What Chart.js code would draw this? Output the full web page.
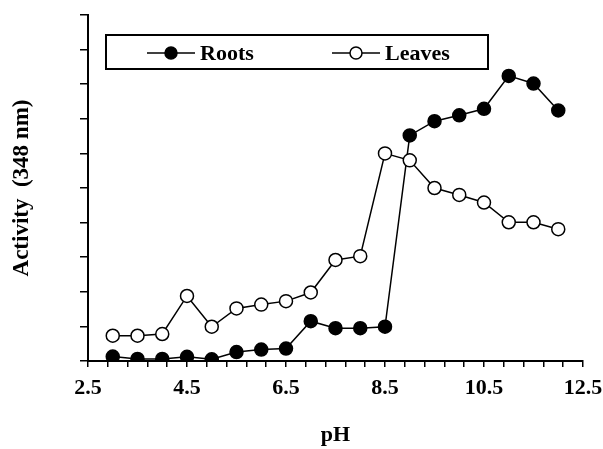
<!DOCTYPE html>
<html>
<head>
<meta charset="utf-8">
<script src="https://cdn.jsdelivr.net/npm/chart.js@4.4.1/dist/chart.umd.min.js"></script>
<style>
  html, body { margin: 0; padding: 0; background: #fff; }
  #wrap { width: 603px; height: 449px; }
</style>
</head>
<body>
<div id="wrap"><canvas id="chart-area-1" width="603" height="449"></canvas></div>
<script>

// pH of each sample
var phValues = [3, 3.5, 4, 4.5, 5, 5.5, 6, 6.5, 7, 7.5, 8, 8.5, 9, 9.5, 10, 10.5, 11, 11.5, 12];

// activity readings at 348 nm
var rootsActivity  = [0.13, 0.06, 0.06, 0.12, 0.05, 0.26, 0.33, 0.36, 1.15, 0.95, 0.95, 0.99,
                      6.52, 6.93, 7.10, 7.29, 8.24, 8.02, 7.24];
var leavesActivity = [0.73, 0.73, 0.78, 1.88, 0.99, 1.52, 1.63, 1.73, 1.98, 2.92, 3.03, 6.00,
                      5.80, 5.00, 4.80, 4.58, 4.01, 4.01, 3.81];

// labelled ticks on the pH axis (minor marks every 0.4 in between)
var xTickLabels = [2.5, 4.5, 6.5, 8.5, 10.5, 12.5];
var xMinorStep  = 0.4;

var FONT = 'Liberation Serif, Times New Roman, serif';

function toPoints(values) {
    return phValues.map(function(ph, i) {
        return { x: ph, y: values[i] };
    });
}

// boxed legend with the line+marker sample, like the old spreadsheet charts
var boxLegend = {
    id: 'boxLegend',
    afterDraw: function(chart) {
        var ctx = chart.ctx;
        ctx.save();
        ctx.strokeStyle = '#000';
        ctx.lineWidth = 2;
        ctx.strokeRect(106, 35, 382, 34);

        chart.data.datasets.forEach(function(ds, i) {
            var x0 = 147 + i * 185;
            var y0 = 53;
            ctx.beginPath();
            ctx.moveTo(x0, y0);
            ctx.lineTo(x0 + 48, y0);
            ctx.lineWidth = 1.5;
            ctx.strokeStyle = ds.borderColor;
            ctx.stroke();

            ctx.beginPath();
            ctx.arc(x0 + 24, y0, 6, 0, Math.PI * 2);
            ctx.fillStyle = ds.pointBackgroundColor;
            ctx.fill();
            ctx.lineWidth = 1.5;
            ctx.stroke();

            ctx.fillStyle = '#000';
            ctx.font = 'bold 22px ' + FONT;
            ctx.textBaseline = 'middle';
            ctx.textAlign = 'left';
            ctx.fillText(ds.label, x0 + 53, y0 + 1);
        });
        ctx.restore();
    }
};

var configOne = {
    type: 'line',
    data: {
        datasets: [{
            label: 'Roots',
            data: toPoints(rootsActivity),
            borderColor: '#000',
            borderWidth: 1.5,
            pointRadius: 6.5,
            pointBorderWidth: 1.5,
            pointBackgroundColor: '#000',
            pointBorderColor: '#000',
            tension: 0,
            order: 1
        }, {
            label: 'Leaves',
            data: toPoints(leavesActivity),
            borderColor: '#000',
            borderWidth: 1.5,
            pointRadius: 6.5,
            pointBorderWidth: 1.5,
            pointBackgroundColor: '#fff',
            pointBorderColor: '#000',
            tension: 0,
            order: 0
        }]
    },
    options: {
        responsive: false,
        animation: false,
        layout: { padding: { top: 15, right: 20, bottom: 0, left: 0 } },
        plugins: {
            legend: { display: false },
            tooltip: { enabled: false }
        },
        scales: {
            x: {
                type: 'linear',
                min: 2.5,
                max: 12.5,
                afterBuildTicks: function(scale) {
                    var ticks = [];
                    var n = Math.round((12.5 - 2.5) / xMinorStep);
                    for (var i = 0; i <= n; i++) {
                        ticks.push({ value: +(2.5 + i * xMinorStep).toFixed(2) });
                    }
                    scale.ticks = ticks;
                },
                afterFit: function(scale) {
                    scale.height = 88;
                    scale.paddingRight = 0;
                },
                ticks: {
                    autoSkip: false,
                    maxRotation: 0,
                    padding: 8,
                    color: '#000',
                    font: { family: FONT, size: 22, weight: 'bold' },
                    callback: function(v) {
                        for (var k = 0; k < xTickLabels.length; k++) {
                            if (Math.abs(v - xTickLabels[k]) < 1e-6) return xTickLabels[k].toFixed(1);
                        }
                        return '';
                    }
                },
                grid: {
                    drawOnChartArea: false,
                    drawTicks: true,
                    tickLength: 6,
                    color: '#000',
                    lineWidth: 1.5
                },
                border: { display: true, color: '#000', width: 2 },
                title: {
                    display: true,
                    text: 'pH',
                    color: '#000',
                    font: { family: FONT, size: 22, weight: 'bold' },
                    padding: { top: 0, bottom: 0 }
                }
            },
            y: {
                min: 0,
                max: 10,
                afterFit: function(scale) { scale.width = 88; },
                ticks: { stepSize: 1, display: false },
                grid: {
                    drawOnChartArea: false,
                    drawTicks: true,
                    tickLength: 8,
                    color: '#000',
                    lineWidth: 1.5
                },
                border: { display: true, color: '#000', width: 2 },
                title: {
                    display: true,
                    text: 'Activity  (348 nm)',
                    color: '#000',
                    font: { family: FONT, size: 23, weight: 'bold' },
                    padding: { top: 8, bottom: 0 }
                }
            }
        }
    },
    plugins: [boxLegend]
};

var ctx = document.getElementById('chart-area-1').getContext('2d');
window.myLine = new Chart(ctx, configOne);
</script>
</body>
</html>
